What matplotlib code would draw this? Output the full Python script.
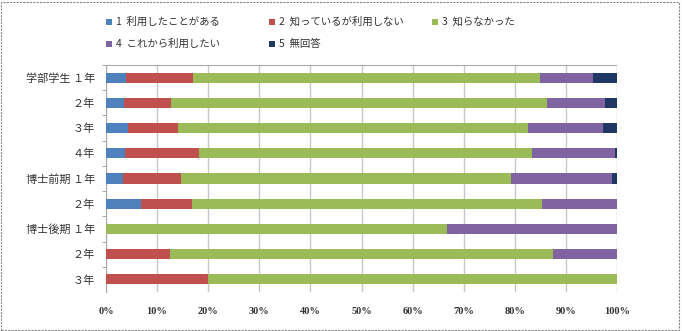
import matplotlib.pyplot as plt
from matplotlib.patches import Rectangle

plt.rcParams['font.family'] = ['Noto Sans CJK JP', 'DejaVu Sans']

# rows from top to bottom
rows = ['学部学生 １年', '２年', '３年', '４年',
        '博士前期 １年', '２年',
        '博士後期 １年', '２年', '３年']
series = ['1  利用したことがある', '2  知っているが利用しない', '3  知らなかった',
          '4  これから利用したい', '5  無回答']
used = [3.9, 3.6, 4.4, 3.7, 3.4, 6.9, 0, 0, 0]
known_not_used = [13.2, 9.2, 9.6, 14.5, 11.3, 10.0, 0, 12.5, 20.0]
not_known = [67.8, 73.5, 68.5, 65.2, 64.5, 68.5, 66.7, 75.0, 80.0]
want_to_use = [10.4, 11.3, 14.7, 16.2, 19.8, 14.6, 33.3, 12.5, 0]
no_answer = [4.7, 2.4, 2.8, 0.4, 1.0, 0, 0, 0, 0]
colors = ['#4F81BD', '#C0504D', '#9BBB59', '#8064A2', '#1F3864']

W, H = 682, 331
fig = plt.figure(figsize=(W / 100, H / 100), dpi=100)
ax = fig.add_axes([106 / W, 1 - 292 / H, 511 / W, 227 / H])

ypos = list(range(len(rows)))
left = [0] * len(rows)
for vals, col, name in zip([used, known_not_used, not_known, want_to_use, no_answer],
                           colors, series):
    ax.barh(ypos, vals, left=left, height=0.4, color=col, label=name, zorder=3)
    left = [a + b for a, b in zip(left, vals)]

ax.set_xlim(0, 100)
ax.set_ylim(len(rows) - 0.5, -0.5)
ax.set_xticks(range(0, 101, 10))
ax.set_xticklabels([f'{v}%' for v in range(0, 101, 10)],
                   fontfamily='Liberation Serif', fontweight='bold', fontsize=7.5,
                   color='#333333')
ax.tick_params(axis='x', length=0, pad=11)
ax.set_yticks(ypos)
ax.set_yticklabels(rows, fontsize=8, color='#333333')
ax.tick_params(axis='y', length=0, pad=8)
ax.set_yticks([y + 0.5 for y in ypos[:-1]] + [-0.5], minor=True)
ax.tick_params(axis='y', which='minor', length=3, color='#999999')
ax.grid(axis='x', color='#c8c8c8', linewidth=1, zorder=0)
for s in ['right', 'bottom']:
    ax.spines[s].set_visible(False)
for s in ['left', 'top']:
    ax.spines[s].set_color('#aaaaaa')
    ax.spines[s].set_linestyle((0, (1, 1)))

# legend laid out like the Excel one: equal-width columns, row-major order
for i, (name, col) in enumerate(zip(series, colors)):
    cx = 109 + 163 * (i % 3)
    cy = 22 + 22 * (i // 3)
    fig.patches.append(Rectangle(((cx - 3) / W, 1 - (cy + 3) / H), 6 / W, 6 / H,
                                 transform=fig.transFigure, facecolor=col,
                                 edgecolor='none'))
    fig.text((cx + 7) / W, 1 - cy / H, name, fontsize=7.5, color='#333333',
             va='center', ha='left')

fig.patches.append(Rectangle((0.002, 0.003), 0.994, 0.992, transform=fig.transFigure,
                             fill=False, edgecolor='#888888', linestyle=(0, (2, 1)),
                             linewidth=0.8))

fig.savefig('out.png', dpi=100)
